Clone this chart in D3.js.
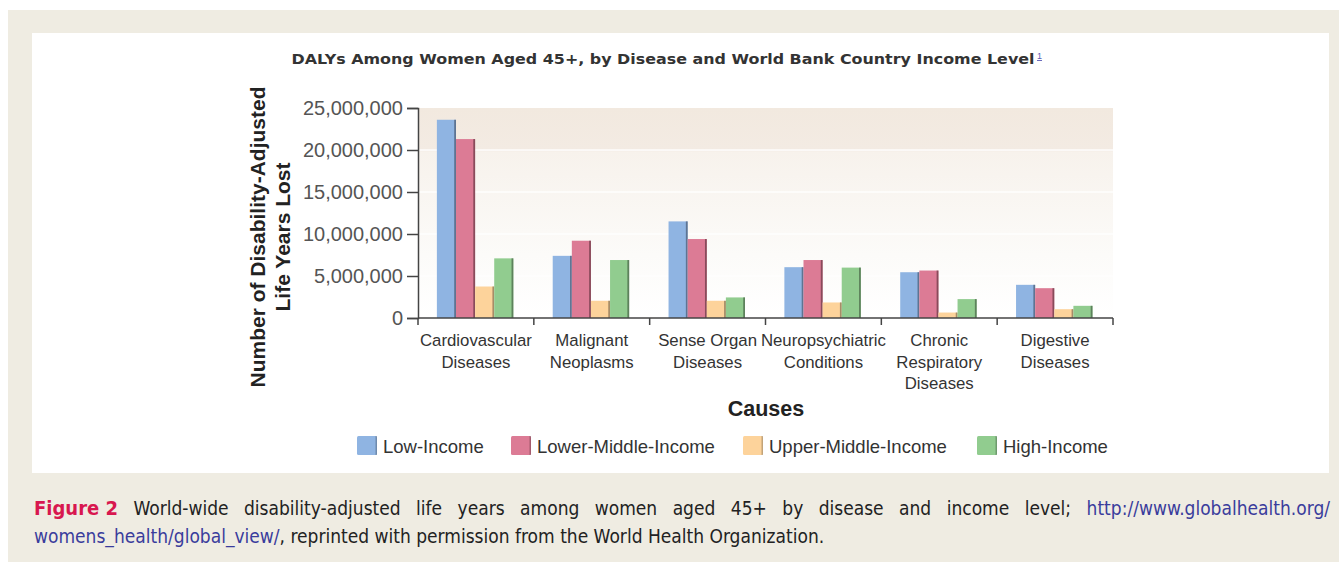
<!DOCTYPE html>
<html>
<head>
<meta charset="utf-8">
<script src="https://cdn.jsdelivr.net/npm/d3@7"></script>
<style>
html,body{margin:0;padding:0;background:#fff;}
svg{display:block;}
</style>
</head>
<body>
<svg id="chart" width="1339" height="562"></svg>
<script>
// ---- data ----
const categories = ["Cardiovascular Diseases", "Malignant Neoplasms", "Sense Organ Diseases",
  "Neuropsychiatric Conditions", "Chronic Respiratory Diseases", "Digestive Diseases"];
const categoryLines = [["Cardiovascular","Diseases"],["Malignant","Neoplasms"],["Sense Organ","Diseases"],
  ["Neuropsychiatric","Conditions"],["Chronic","Respiratory","Diseases"],["Digestive","Diseases"]];
const seriesNames = ["Low-Income", "Lower-Middle-Income", "Upper-Middle-Income", "High-Income"];
const lowIncome         = [23600000, 7400000, 11500000, 6050000, 5450000, 3950000];
const lowerMiddleIncome = [21300000, 9200000, 9400000, 6900000, 5650000, 3550000];
const upperMiddleIncome = [3750000, 2050000, 2050000, 1850000, 650000, 1050000];
const highIncome        = [7100000, 6900000, 2450000, 6000000, 2250000, 1450000];
const yTicks = [0, 5000000, 10000000, 15000000, 20000000, 25000000];
const titleText = "DALYs Among Women Aged 45+, by Disease and World Bank Country Income Level";
const yLabelLines = ["Number of Disability-Adjusted", "Life Years Lost"];
const xLabel = "Causes";

const seriesValues = [lowIncome, lowerMiddleIncome, upperMiddleIncome, highIncome];
const colors = ["#8fb4e2", "#dc7b95", "#fdd39b", "#91cc8f"];
const edgeColors = ["#4d5f78", "#6e3b48", "#8a7455", "#4c6a4b"];

const svg = d3.select("#chart");

// page background and panel
svg.append("rect").attr("x",8).attr("y",10).attr("width",1331).attr("height",552).attr("fill","#efece2");
svg.append("rect").attr("x",32).attr("y",33).attr("width",1297).attr("height",440).attr("fill","#ffffff");

// scales
const x0 = d3.scaleBand().domain(categories).range([418, 1113]).paddingInner(0).paddingOuter(0);
const bw = x0.bandwidth();
const x1 = d3.scaleBand().domain(seriesNames).range([bw*0.163, bw*0.823]).padding(0);
const y = d3.scaleLinear().domain([0, 25000000]).range([318, 108]);

// plot background gradient
const defs = svg.append("defs");
const grad = defs.append("linearGradient").attr("id","bg").attr("x1",0).attr("y1",0).attr("x2",0).attr("y2",1);
grad.append("stop").attr("offset","0%").attr("stop-color","#f2e9df");
grad.append("stop").attr("offset","20%").attr("stop-color","#f3ebe3");
grad.append("stop").attr("offset","21%").attr("stop-color","#f7f2ec");
grad.append("stop").attr("offset","70%").attr("stop-color","#fcfbf9");
grad.append("stop").attr("offset","100%").attr("stop-color","#ffffff");
svg.append("rect").attr("x",419).attr("y",y(25000000)).attr("width",1113-419)
  .attr("height",y(0)-y(25000000)).attr("fill","url(#bg)");
// faint white grid lines
svg.append("g").selectAll("line").data(yTicks.filter(t => t > 0 && t < 25000000)).join("line")
  .attr("x1",419).attr("x2",1113).attr("y1",d=>y(d)).attr("y2",d=>y(d))
  .attr("stroke","#ffffff").attr("stroke-width",1.5).attr("opacity",0.9);

// title
svg.append("text").attr("x",663).attr("y",64).attr("text-anchor","middle")
  .attr("font-family","DejaVu Sans, Verdana, sans-serif").attr("font-weight","bold")
  .attr("font-size",14.5).attr("fill","#333").text(titleText)
  .attr("textLength",743).attr("lengthAdjust","spacingAndGlyphs");
svg.append("text").attr("x",1037).attr("y",59).attr("font-family","Liberation Sans, Arial, sans-serif")
  .attr("font-size",9).attr("fill","#5b5bb5").attr("text-decoration","underline").text("1");

// bars
const groups = svg.append("g").selectAll("g").data(categories).join("g")
  .attr("transform", d => `translate(${x0(d)},0)`);
groups.each(function(cat, ci) {
  const g = d3.select(this);
  seriesNames.forEach((s, si) => {
    const v = seriesValues[si][ci];
    const bx = x1(s), bwid = x1.bandwidth();
    g.append("rect").attr("x", bx).attr("y", y(v)).attr("width", bwid).attr("height", y(0) - y(v))
      .attr("fill", colors[si]);
    g.append("rect").attr("x", bx + bwid - 1.8).attr("y", y(v)).attr("width", 1.8).attr("height", y(0) - y(v))
      .attr("fill", edgeColors[si]).attr("opacity", 0.75);
  });
});

// y axis
const yAxis = d3.axisLeft(y).tickValues(yTicks).tickSize(11).tickPadding(4).tickFormat(d3.format(","));
const yg = svg.append("g").attr("transform","translate(418,0)").call(yAxis);
yg.select(".domain").attr("stroke","#444").attr("stroke-width",1.5);
yg.selectAll(".tick line").attr("stroke","#444").attr("stroke-width",1.5);
yg.selectAll(".tick text").attr("font-family","Liberation Sans, Arial, sans-serif")
  .attr("font-size",20).attr("fill","#555").attr("dy","0.34em");

// x axis
const xg = svg.append("g").attr("transform","translate(0,318)");
xg.append("line").attr("x1",418).attr("x2",1113).attr("y1",0).attr("y2",0).attr("stroke","#444").attr("stroke-width",1.5);
const bounds = categories.map(c => x0(c)).concat([x0(categories[categories.length-1]) + bw]);
xg.selectAll(".tk").data(bounds).join("line").attr("class","tk")
  .attr("x1",d=>d).attr("x2",d=>d).attr("y1",0).attr("y2",7).attr("stroke","#444").attr("stroke-width",1.5);
const labs = xg.selectAll(".cat").data(categories).join("text").attr("class","cat")
  .attr("x", d => x0(d) + bw/2).attr("y", 28).attr("text-anchor","middle")
  .attr("font-family","Liberation Sans, Arial, sans-serif").attr("font-size",16.8).attr("fill","#333");
labs.each(function(d, i) {
  const t = d3.select(this);
  categoryLines[i].forEach((ln, li) => {
    t.append("tspan").attr("x", x0(d) + bw/2).attr("dy", li === 0 ? 0 : 21.5).text(ln);
  });
});

// axis titles
svg.append("text").attr("x",766).attr("y",416).attr("text-anchor","middle")
  .attr("font-family","Liberation Sans, Arial, sans-serif").attr("font-weight","bold")
  .attr("font-size",21.5).attr("fill","#222").text(xLabel);
const yl = svg.append("text").attr("transform","translate(265,237) rotate(-90)").attr("text-anchor","middle")
  .attr("font-family","Liberation Sans, Arial, sans-serif").attr("font-weight","bold")
  .attr("font-size",21).attr("fill","#222");
yLabelLines.forEach((ln, i) => yl.append("tspan").attr("x",0).attr("dy", i === 0 ? 0 : 25).text(ln));

// legend
const legX = [357, 511, 743, 977];
const leg = svg.append("g").selectAll("g").data(seriesNames).join("g")
  .attr("transform", (d,i) => `translate(${legX[i]},436)`);
leg.append("rect").attr("width",20).attr("height",19).attr("rx",1.5).attr("fill",(d,i)=>colors[i]);
leg.append("rect").attr("x",18.5).attr("width",1.5).attr("height",19).attr("fill",(d,i)=>edgeColors[i]).attr("opacity",0.5);
leg.append("text").attr("x",26).attr("y",16.5).attr("font-family","Liberation Sans, Arial, sans-serif")
  .attr("font-size",18.5).attr("fill","#333").text(d=>d);

// caption
const capFont = "Liberation Sans Narrow, DejaVu Sans Condensed, Liberation Sans, sans-serif";
const line1 = [
  {t:"Figure 2", bold:true, color:"#d8174f"},
  ...("World-wide disability-adjusted life years among women aged 45+ by disease and income level;".split(" ").map(w=>({t:w,color:"#222"}))),
  {t:"http://www.globalhealth.org/", color:"#3a3c9c"}
];
const capSize = 19;
const cap1 = svg.append("g");
const widths = line1.map(w => {
  const el = cap1.append("text").attr("font-family",capFont).attr("font-size", w.bold ? 20 : capSize)
    .attr("font-weight", w.bold ? "bold" : "normal").attr("fill", w.color).attr("y",515).text(w.t);
  w.el = el;
  return el.node().getComputedTextLength();
});
const total = d3.sum(widths);
const gap = (1330 - 34 - total) / (line1.length - 1);
let cx = 34;
line1.forEach((w, i) => { w.el.attr("x", cx); cx += widths[i] + gap; });

const cap2 = svg.append("text").attr("x",34).attr("y",543).attr("font-family",capFont).attr("font-size",capSize);
cap2.append("tspan").attr("fill","#3a3c9c").text("womens_health/global_view/");
cap2.append("tspan").attr("fill","#222").text(", reprinted with permission from the World Health Organization.");
</script>
</body>
</html>
